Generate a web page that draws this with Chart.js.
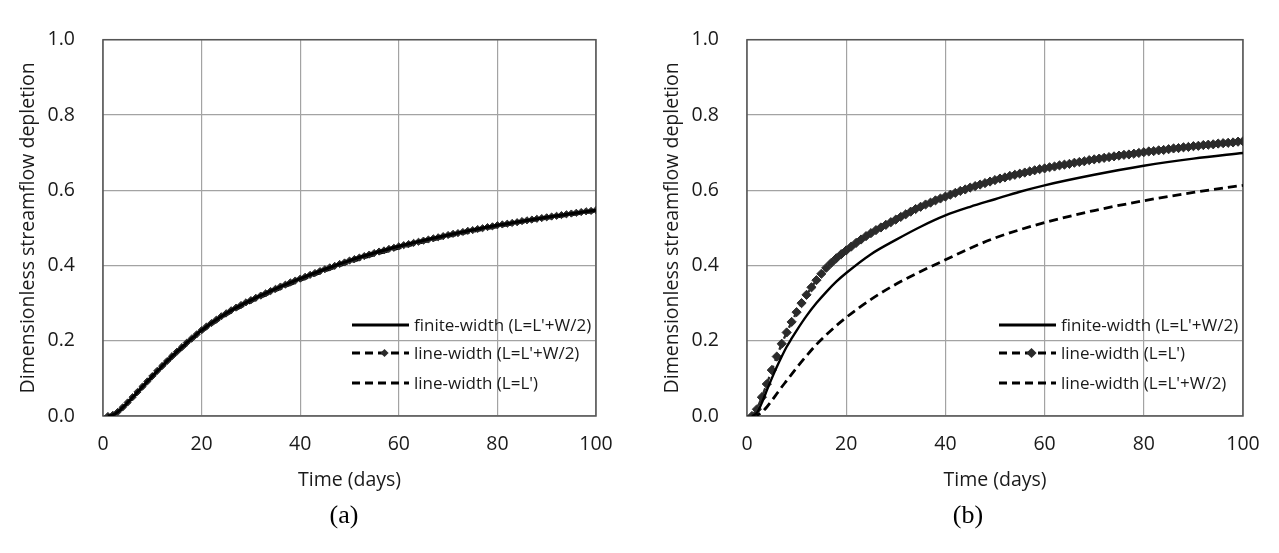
<!DOCTYPE html>
<html lang="en">
<head>
<meta charset="UTF-8">
<title>Dimensionless streamflow depletion</title>
<script src="https://cdn.jsdelivr.net/npm/chart.js@4"></script>
<style>
  body { margin: 0; background: #fff; }
  canvas { position: absolute; top: 0; }
</style>
</head>
<body>
<canvas id="chartA" width="640" height="553" style="left:0px"></canvas>
<canvas id="chartB" width="635" height="553" style="left:644px"></canvas>
<script>
// axis ticks
const xTickValues = [0, 20, 40, 60, 80, 100];
const yTickValues = [0, 0.2, 0.4, 0.6, 0.8, 1.0];

// daily time steps (marker series)
const daysDaily = [1,2,3,4,5,6,7,8,9,10,11,12,13,14,15,16,17,18,19,20,
  21,22,23,24,25,26,27,28,29,30,31,32,33,34,35,36,37,38,39,40,
  41,42,43,44,45,46,47,48,49,50,51,52,53,54,55,56,57,58,59,60,
  61,62,63,64,65,66,67,68,69,70,71,72,73,74,75,76,77,78,79,80,
  81,82,83,84,85,86,87,88,89,90,91,92,93,94,95,96,97,98,99,100];

// ---- panel (a) ----
const daysA = [1,2,3,4,5,6,8,10,12,14,16,18,20,25,30,35,40,45,50,55,60,70,80,90,100];
const finiteA = [0,0.003,0.011,0.023,0.036,0.050,0.078,0.106,0.133,0.159,0.183,0.206,0.228,
  0.273,0.308,0.338,0.365,0.390,0.413,0.433,0.451,0.481,0.507,0.528,0.547];
const lineHalfA = [0.000,0.003,0.011,0.023,0.036,0.050,0.064,0.078,0.092,0.106,
  0.120,0.133,0.146,0.159,0.171,0.183,0.195,0.206,0.217,0.228,
  0.238,0.247,0.256,0.265,0.273,0.281,0.288,0.295,0.302,0.308,
  0.314,0.320,0.326,0.332,0.338,0.344,0.349,0.355,0.360,0.365,
  0.370,0.375,0.380,0.385,0.390,0.395,0.399,0.404,0.408,0.413,
  0.417,0.421,0.425,0.429,0.433,0.437,0.440,0.444,0.447,0.451,
  0.454,0.457,0.460,0.463,0.466,0.469,0.472,0.475,0.478,0.481,
  0.484,0.486,0.489,0.492,0.494,0.497,0.499,0.502,0.504,0.507,
  0.509,0.511,0.513,0.515,0.518,0.520,0.522,0.524,0.526,0.528,
  0.530,0.532,0.534,0.536,0.538,0.540,0.542,0.544,0.545,0.547];
const linePrimeA = [0,0.002,0.009,0.020,0.033,0.047,0.075,0.102,0.129,0.154,0.178,0.201,0.223,
  0.268,0.303,0.333,0.360,0.385,0.408,0.428,0.446,0.477,0.503,0.525,0.544];

// ---- panel (b) ----
const daysFiniteB = [1,2,3,4,5,6,7,8,9,10,12,14,16,18,20,25,30,35,40,45,50,55,60,70,80,90,100];
const finiteB = [0,0.008,0.035,0.068,0.100,0.130,0.158,0.184,0.206,0.227,0.266,0.300,0.330,0.357,0.380,
  0.430,0.468,0.503,0.533,0.556,0.576,0.596,0.613,0.641,0.665,0.684,0.699];
const linePrimeB = [0.000,0.018,0.050,0.085,0.122,0.158,0.192,0.222,0.250,0.276,
  0.300,0.322,0.342,0.361,0.378,0.394,0.407,0.419,0.430,0.440,
  0.450,0.460,0.469,0.478,0.486,0.494,0.501,0.508,0.515,0.522,
  0.529,0.536,0.543,0.550,0.556,0.562,0.567,0.573,0.578,0.583,
  0.588,0.593,0.598,0.602,0.607,0.611,0.615,0.619,0.623,0.627,
  0.631,0.634,0.638,0.641,0.644,0.647,0.650,0.653,0.656,0.658,
  0.661,0.663,0.666,0.668,0.670,0.673,0.675,0.677,0.680,0.682,
  0.684,0.686,0.688,0.690,0.692,0.694,0.695,0.697,0.699,0.701,
  0.703,0.704,0.706,0.707,0.709,0.711,0.712,0.714,0.715,0.717,
  0.718,0.720,0.721,0.722,0.724,0.725,0.726,0.727,0.729,0.730];
const daysHalfB = [1,2,3,4,5,6,7,8,10,12,14,16,18,20,25,30,35,40,45,50,55,60,70,80,90,100];
const lineHalfB = [0,0.002,0.010,0.024,0.041,0.059,0.077,0.094,0.128,0.160,0.190,0.216,0.240,0.262,
  0.310,0.350,0.384,0.415,0.446,0.473,0.495,0.514,0.546,0.572,0.594,0.613];

const FONT = "'Open Sans', sans-serif";
const INK = '#1a1a1a';
Chart.defaults.font.family = FONT;
Chart.defaults.color = INK;

function pts(xs, ys) { return xs.map((x, i) => ({ x: x, y: ys[i] })); }

function solidSet(label, xs, ys, width) {
  return { label, data: pts(xs, ys), borderColor: '#000', borderWidth: width,
    pointRadius: 0, cubicInterpolationMode: 'monotone', fill: false };
}
function dashedSet(label, xs, ys) {
  return { label, data: pts(xs, ys), borderColor: '#000', borderWidth: 2.8, borderDash: [9, 5],
    pointRadius: 0, cubicInterpolationMode: 'monotone', fill: false };
}
function markerSet(label, xs, ys, r) {
  return { label, data: pts(xs, ys), borderColor: '#2b2b2b', backgroundColor: '#2b2b2b', borderWidth: 2.4,
    borderDash: [7, 5], pointStyle: 'rectRot', pointRadius: r, pointBorderWidth: 1,
    pointBackgroundColor: '#2b2b2b', pointBorderColor: '#2b2b2b', fill: false };
}

// frame, in-plot legend and panel tag
const panelDecor = {
  id: 'panelDecor',
  beforeDatasetsDraw(chart) {
    const { ctx, chartArea: a } = chart;
    ctx.save();
    ctx.strokeStyle = '#555';
    ctx.lineWidth = 1.5;
    ctx.strokeRect(a.left, a.top, a.right - a.left, a.bottom - a.top);
    ctx.restore();
  },
  afterDraw(chart, args, opts) {
    const { ctx, chartArea: a } = chart;
    ctx.save();
    chart.data.datasets.forEach((ds, i) => {
      const y = a.bottom - opts.rows[i];
      const x0 = a.right - 244, x1 = a.right - 187;
      ctx.strokeStyle = '#000';
      ctx.lineWidth = 3.2;
      ctx.setLineDash(ds.borderDash ? [8, 5] : []);
      ctx.beginPath(); ctx.moveTo(x0, y); ctx.lineTo(x1, y); ctx.stroke();
      ctx.setLineDash([]);
      if (ds.pointRadius > 0) {
        const r = ds.pointRadius + 0.5, cx = (x0 + x1) / 2 + 4;
        ctx.fillStyle = ds.pointBackgroundColor;
        ctx.beginPath();
        ctx.moveTo(cx, y - r); ctx.lineTo(cx + r, y); ctx.lineTo(cx, y + r); ctx.lineTo(cx - r, y);
        ctx.closePath(); ctx.fill();
      }
      ctx.fillStyle = INK;
      ctx.font = "17px " + FONT;
      ctx.textBaseline = 'middle';
      ctx.textAlign = 'left';
      ctx.fillText(ds.label, a.right - 182, y + 1);
    });
    ctx.font = "26px 'Liberation Serif', 'Times New Roman', serif";
    ctx.fillStyle = '#000';
    ctx.textAlign = 'center';
    ctx.textBaseline = 'middle';
    ctx.fillText(opts.tag, opts.tagX, 516);
    ctx.restore();
  }
};

function makeChart(id, datasets, rightPad, tag, tagX) {
  return new Chart(document.getElementById(id), {
    type: 'line',
    data: { datasets },
    plugins: [panelDecor],
    options: {
      responsive: false,
      animation: false,
      layout: { padding: { left: 10, right: rightPad, top: 27, bottom: 59 } },
      plugins: {
        legend: { display: false },
        tooltip: { enabled: false },
        panelDecor: { rows: [91, 63, 33], tag, tagX }
      },
      scales: {
        x: {
          type: 'linear', min: 0, max: 100,
          afterBuildTicks: s => { s.ticks = xTickValues.map(v => ({ value: v })); },
          afterFit: s => { s.height = 78; },
          grid: { color: '#a3a3a3', lineWidth: 1.2, drawTicks: false },
          border: { display: false },
          ticks: { padding: 17, font: { size: 19.5 }, color: INK },
          title: { display: true, text: 'Time (days)', font: { size: 19.5 }, color: INK,
            padding: { top: 0, bottom: 2 } }
        },
        y: {
          min: 0, max: 1,
          afterBuildTicks: s => { s.ticks = yTickValues.map(v => ({ value: v })); },
          afterFit: s => { s.width = 93; },
          grid: { color: '#a3a3a3', lineWidth: 1.2, drawTicks: false },
          border: { display: false },
          ticks: { padding: 28, font: { size: 19.5 }, color: INK, callback: v => v.toFixed(1) },
          title: { display: true, text: 'Dimensionless streamflow depletion', font: { size: 19.5 },
            color: INK, padding: { top: 7, bottom: 0 } }
        }
      }
    }
  });
}

makeChart('chartA', [
  solidSet('finite-width (L=L\'+W/2)', daysA, finiteA, 3),
  markerSet('line-width (L=L\'+W/2)', daysDaily, lineHalfA, 3.6),
  dashedSet('line-width (L=L\')', daysA, linePrimeA)
], 44, '(a)', 344);

makeChart('chartB', [
  solidSet('finite-width (L=L\'+W/2)', daysFiniteB, finiteB, 2.4),
  markerSet('line-width (L=L\')', daysDaily, linePrimeB, 4.6),
  dashedSet('line-width (L=L\'+W/2)', daysHalfB, lineHalfB)
], 36, '(b)', 324);
</script>
</body>
</html>
